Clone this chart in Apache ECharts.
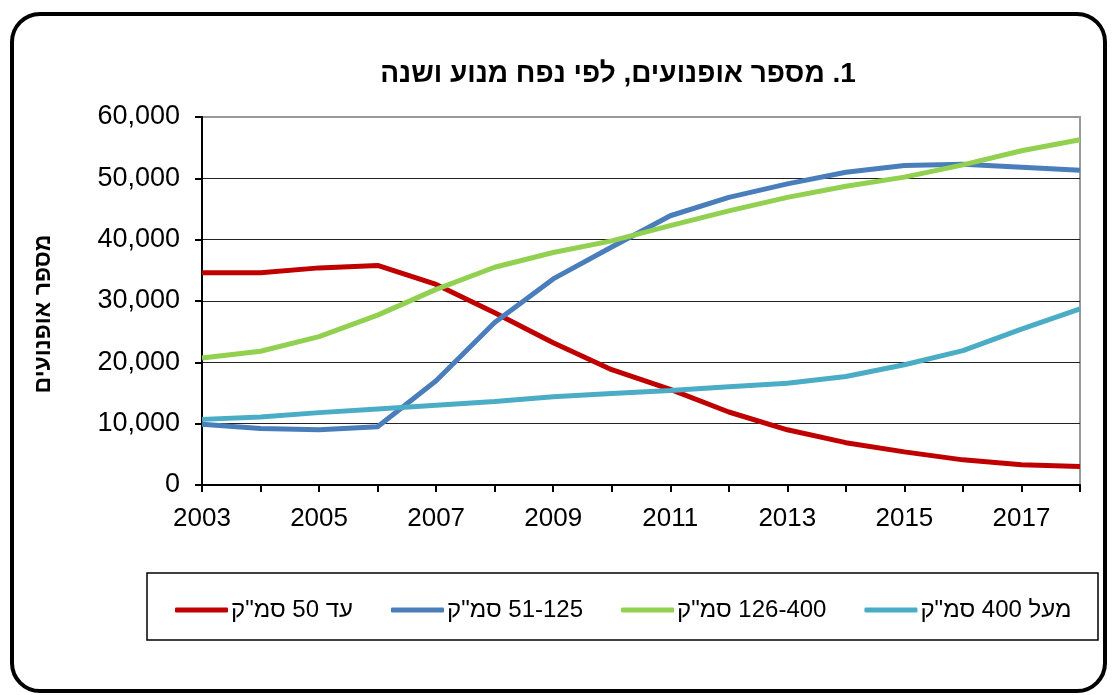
<!DOCTYPE html>
<html>
<head>
<meta charset="utf-8">
<script src="https://cdn.jsdelivr.net/npm/echarts@6/dist/echarts.min.js"></script>
<style>
  html, body { margin: 0; padding: 0; background: #fff; }
  #chart { width: 1115px; height: 695px; direction: rtl; }
</style>
</head>
<body>
<div id="chart"></div>
<script>
// נתונים
const years = ["2003", "2004", "2005", "2006", "2007", "2008", "2009", "2010",
  "2011", "2012", "2013", "2014", "2015", "2016", "2017", "2018"];
const upTo50 = [34600, 34600, 35400, 35800, 32700, 28100, 23200, 18800,
  15600, 11900, 9000, 6900, 5400, 4100, 3300, 3000];
const cc51to125 = [9900, 9200, 9000, 9500, 17000, 26500, 33600, 38800,
  43900, 46900, 49100, 51000, 52100, 52300, 51800, 51300];
const cc126to400 = [20700, 21800, 24200, 27700, 31900, 35500, 37900, 39800,
  42300, 44700, 46900, 48700, 50200, 52200, 54500, 56300];
const over400 = [10700, 11100, 11800, 12400, 13000, 13600, 14400, 14900,
  15400, 16000, 16600, 17700, 19600, 21900, 25400, 28700];
const seriesNames = ['עד 50 סמ"ק', '51-125 סמ"ק', '126-400 סמ"ק', 'מעל 400 סמ"ק'];
const seriesColors = ["#C00000", "#4A7EBB", "#92D050", "#4BACC6"];

const font = '"Liberation Sans", Arial, sans-serif';

const chart = echarts.init(document.getElementById("chart"), null, { renderer: "canvas" });

function lineSeries(name, data, color) {
  return {
    type: "line",
    name,
    data,
    symbol: "none",
    smooth: false,
    itemStyle: { color },
    lineStyle: { color, width: 5 },
  };
}

const option = {
  animation: false,
  backgroundColor: "#fff",
  title: {
    text: "1. מספר אופנועים, לפי נפח מנוע ושנה",
    left: 618,
    top: 60,
    padding: 0,
    textAlign: "center",
    textStyle: { fontFamily: font, fontSize: 28, fontWeight: "bold", color: "#000" },
  },
  graphic: [
    {
      type: "rect",
      shape: { x: 12, y: 14, width: 1093, height: 677, r: 28 },
      style: { fill: "none", stroke: "#000", lineWidth: 4 },
      z: 100,
    },
    {
      type: "rect",
      shape: { x: 147, y: 573, width: 951, height: 67 },
      style: { fill: "none", stroke: "#000", lineWidth: 1.5 },
    },
    {
      // כותרת ציר Y
      type: "text",
      x: 44,
      y: 314,
      rotation: Math.PI / 2,
      style: {
        text: "מספר אופנועים",
        fontFamily: font,
        fontSize: 23,
        fontWeight: "bold",
        fill: "#000",
        align: "center",
        verticalAlign: "middle",
      },
    },
  ],
  legend: {
    data: seriesNames,
    icon: "roundRect",
    left: 170,
    top: 593,
    itemGap: 38,
    itemWidth: 53,
    itemHeight: 5,
    textStyle: { fontFamily: font, fontSize: 24, color: "#000", padding: [0, 0, 0, -2] },
  },
  grid: {
    left: 202,
    right: 35,
    top: 117,
    bottom: 210,
    show: true,
    borderColor: "#999",
    borderWidth: 2,
  },
  xAxis: {
    type: "category",
    data: years,
    boundaryGap: false,
    axisLine: { lineStyle: { color: "#000", width: 2 } },
    axisTick: { show: true, interval: 0, length: 7, lineStyle: { color: "#000", width: 2 } },
    axisLabel: {
      interval: 1,
      margin: 21,
      color: "#000",
      fontFamily: font,
      fontSize: 26,
    },
    splitLine: { show: false },
  },
  yAxis: {
    type: "value",
    min: 0,
    max: 60000,
    interval: 10000,
    axisLine: { show: true, lineStyle: { color: "#000", width: 2 } },
    axisTick: { show: true, length: 7, lineStyle: { color: "#000", width: 2 } },
    axisLabel: {
      margin: 22,
      color: "#000",
      fontFamily: font,
      fontSize: 27,
      formatter(value) {
        return value.toLocaleString("en-US");
      },
    },
    splitLine: {
      show: true,
      lineStyle: { color: ["#000", "#222", "#222", "#222", "#222", "#222", "#999"], width: 1 },
    },
  },
  series: [
    lineSeries(seriesNames[0], upTo50, seriesColors[0]),
    lineSeries(seriesNames[1], cc51to125, seriesColors[1]),
    lineSeries(seriesNames[2], cc126to400, seriesColors[2]),
    lineSeries(seriesNames[3], over400, seriesColors[3]),
  ],
};

chart.setOption(option);
</script>
</body>
</html>
